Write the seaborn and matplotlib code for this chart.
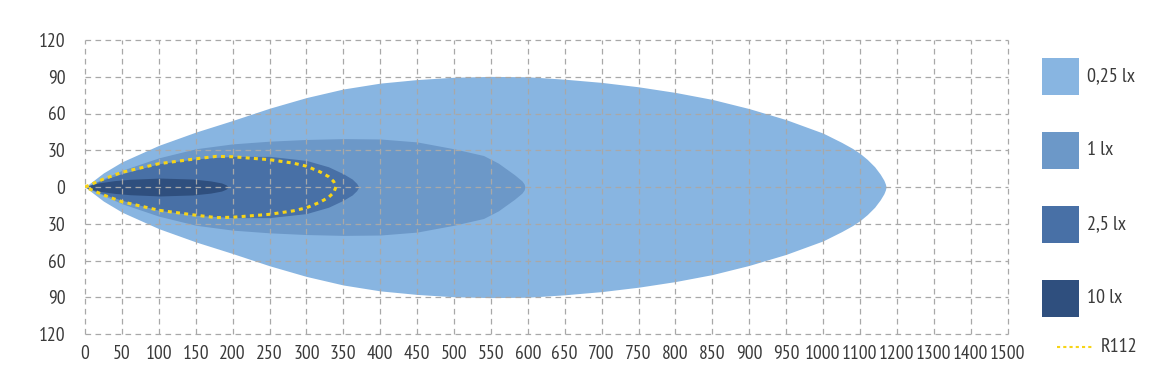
import numpy as np
import matplotlib
matplotlib.use("Agg")
import matplotlib.pyplot as plt
from matplotlib.patches import Rectangle
from matplotlib.lines import Line2D
import seaborn as sns

# ---- data (x in metres, half-width in metres; contours are symmetric) ----
x_025 = [0, 25, 50, 100, 150, 200, 250, 300, 350, 400, 450, 500, 550, 600, 650, 700,
         750, 800, 850, 900, 950, 1000, 1050, 1080, 1100, 1120, 1140, 1155, 1165, 1169, 1171]
w_025 = [0, 11.5, 20.5, 34, 44.8, 54.3, 64.3, 73, 80, 84.8, 87.7, 89.6, 90.3, 90, 88, 85.4,
         81.8, 77.2, 71.5, 64, 55, 44, 36.5, 31.5, 27.5, 22.5, 16.5, 10.5, 5.5, 2.5, 0]

x_1 = [0, 50, 100, 150, 200, 250, 300, 350, 400, 450, 500, 540, 560, 582, 592, 595, 596]
w_1 = [0, 13.6, 23.8, 31.2, 35.2, 37.4, 38.8, 39.5, 39.2, 36.8, 31.2, 25.7, 19.5, 10, 5, 2.5, 0]

x_25 = [0, 25, 50, 100, 150, 200, 250, 300, 330, 350, 362, 368, 371]
w_25 = [0, 6, 10.8, 19, 23, 25, 25, 21.7, 16.5, 10.8, 6.5, 3, 0]

x_10 = [0, 10, 20, 40, 61, 102, 146, 170, 185, 191, 194]
w_10 = [0, 2, 3.5, 5.2, 6.3, 7.3, 6.5, 5, 3.3, 1.8, 0]

x_r112 = [0, 25, 50, 100, 150, 178, 200, 250, 282, 300, 318, 330, 337, 340]
w_r112 = [0, 6.5, 12, 19, 23, 25, 24.7, 22.3, 19.5, 17, 12.5, 8.5, 4.5, 0]

x_ticks = [0, 50, 100, 150, 200, 250, 300, 350, 400, 450, 500, 550, 600, 650, 700,
           750, 800, 850, 900, 950, 1000, 1100, 1200, 1300, 1400, 1500]
y_ticks = [-120, -90, -60, -30, 0, 30, 60, 90, 120]
y_tick_labels = ["120", "90", "60", "30", "0", "30", "60", "90", "120"]

legend_labels = ["0,25 lx", "1 lx", "2,5 lx", "10 lx"]
colors = ["#88b5e1", "#6c98c8", "#4870a6", "#2f4f7e"]
r112_color = "#f7d417"
text_color = "#3a3a3a"

sns.set_theme(style="white")
plt.rcParams["font.family"] = ["PT Sans Narrow", "Roboto Condensed", "Liberation Sans", "DejaVu Sans"]
fs = 14

fig = plt.figure(figsize=(11.72, 3.82), dpi=100)
ax = fig.add_axes([85 / 1172, 1 - 334 / 382, (1007.5 - 85) / 1172, (334 - 40) / 382])


def fwd(x):
    x = np.asarray(x, dtype=float)
    return np.where(x <= 1000, x / 50.0, 20 + (x - 1000) / 100.0)


def inv(i):
    i = np.asarray(i, dtype=float)
    return np.where(i <= 20, i * 50.0, 1000 + (i - 20) * 100.0)


ax.set_xscale("function", functions=(fwd, inv))

for xs, ws, c in [(x_025, w_025, colors[0]), (x_1, w_1, colors[1]),
                  (x_25, w_25, colors[2]), (x_10, w_10, colors[3])]:
    xs = np.array(xs, float)
    ws = np.array(ws, float)
    ax.fill_between(xs, ws, -ws, color=c, lw=0, zorder=1)

# R112 closed outline
xr = np.array(x_r112, float)
wr = np.array(w_r112, float)
loop_x = np.concatenate([xr, xr[::-1][1:]])
loop_y = np.concatenate([wr, -wr[::-1][1:]])
sns.lineplot(x=loop_x, y=loop_y, sort=False, ax=ax, color=r112_color, lw=2.2,
             linestyle=(0, (1.3, 1.4)), zorder=4, estimator=None)

ax.set_xlim(0, 1500)
ax.set_ylim(-120, 120)
ax.set_xticks(x_ticks)
ax.set_xticklabels([str(t) for t in x_ticks])
ax.set_yticks(y_ticks)
ax.set_yticklabels(y_tick_labels)
ax.minorticks_off()
ax.set_xlabel("")
ax.set_ylabel("")
for s in ax.spines.values():
    s.set_visible(False)
ax.tick_params(axis="both", length=0, labelsize=fs, colors=text_color)
ax.tick_params(axis="x", pad=8)
ax.tick_params(axis="y", pad=14)
ax.grid(True, color="#a8a8a8", lw=0.9, linestyle=(0, (4.5, 3.5)))
ax.set_axisbelow(False)
for gl in ax.get_xgridlines() + ax.get_ygridlines():
    gl.set_clip_on(False)
    gl.set_zorder(2.5)

# legend (laid out in figure pixels)
W, H = 1172.0, 382.0
sq_tops = [58, 132, 206, 280]
for top, c, lab in zip(sq_tops, colors, legend_labels):
    fig.patches.append(Rectangle((1042 / W, 1 - (top + 36.5) / H), 36.5 / W, 36.5 / H,
                                 transform=fig.transFigure, color=c, lw=0))
    fig.text(1087 / W, 1 - (top + 18) / H, lab, ha="left", va="center",
             fontsize=fs + 0.5, color=text_color)
fig.lines.append(Line2D([1057 / W, 1093 / W], [1 - 347 / H, 1 - 347 / H],
                        transform=fig.transFigure, color=r112_color, lw=1.5,
                        linestyle=(0, (1.5, 1.5))))
fig.text(1101 / W, 1 - 347 / H, "R112", ha="left", va="center",
         fontsize=fs + 0.5, color=text_color)

fig.savefig("out.png", dpi=100)
